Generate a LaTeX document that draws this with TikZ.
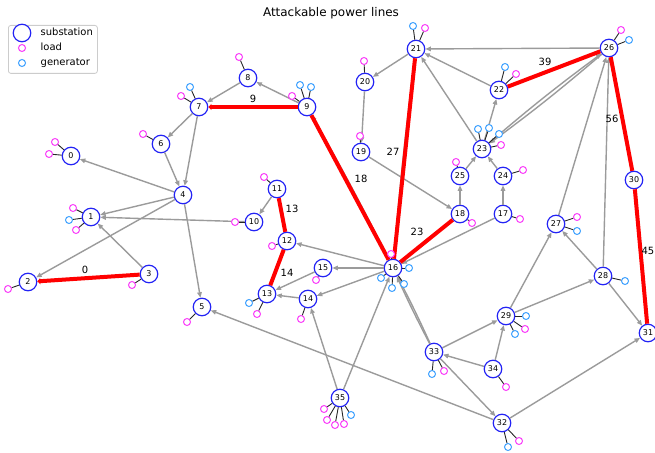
\documentclass[tikz,border=0pt]{standalone}
\usepackage{fontspec}
\setmainfont{DejaVu Sans}
\usetikzlibrary{arrows.meta,calc}
\definecolor{subblue}{RGB}{35,35,245}
\definecolor{loadmag}{RGB}{250,60,250}
\definecolor{genblue}{RGB}{60,160,255}
\definecolor{edgegray}{RGB}{155,155,155}
\definecolor{attred}{RGB}{255,0,0}
\newcommand\addatt[4]{\node[#3] (#2) at ($(#1)+(#4)$) {}; \draw[stub] (#1) -- (#2);}
\begin{document}
\begin{tikzpicture}[x=1bp,y=-1bp,
 sub/.style={circle,draw=subblue,line width=1.2bp,fill=white,minimum size=17.5bp,inner sep=0pt,font=\fontsize{8}{9}\selectfont},
 ld/.style={circle,draw=loadmag,line width=1bp,fill=white,minimum size=7bp,inner sep=0pt},
 gn/.style={circle,draw=genblue,line width=1bp,fill=white,minimum size=7bp,inner sep=0pt},
 stub/.style={draw=black!85,line width=0.9bp},
 ed/.style={draw=edgegray,line width=1.4bp,-{Triangle[length=5.5bp,width=4.5bp]}},
 edn/.style={draw=edgegray,line width=1.4bp},
 attline/.style={draw=attred,line width=4bp},
 atttip/.style={draw=attred,line width=4bp,-{Triangle[length=3bp,width=6bp]}},
 elab/.style={font=\fontsize{10}{12}\selectfont,inner sep=0pt},
 legtext/.style={anchor=west,font=\fontsize{10}{12}\selectfont,inner sep=0pt,text height=7.5bp,text depth=2bp},
]
\useasboundingbox (0,0) rectangle (655,453);
\clip (0,0) rectangle (655,453);

% substations
\node[sub] (n0) at (71,156) {0};
\node[sub] (n1) at (91,217) {1};
\node[sub] (n2) at (28,282) {2};
\node[sub] (n3) at (149,274) {3};
\node[sub] (n4) at (183,195) {4};
\node[sub] (n5) at (202,307) {5};
\node[sub] (n6) at (161,144) {6};
\node[sub] (n7) at (199,107) {7};
\node[sub] (n8) at (248,78) {8};
\node[sub] (n9) at (307,107) {9};
\node[sub] (n10) at (254,222) {10};
\node[sub] (n11) at (277,189) {11};
\node[sub] (n12) at (287,241) {12};
\node[sub] (n13) at (267,294) {13};
\node[sub] (n14) at (308,299) {14};
\node[sub] (n15) at (323,268) {15};
\node[sub] (n16) at (393,268) {16};
\node[sub] (n17) at (503,214) {17};
\node[sub] (n18) at (460,214) {18};
\node[sub] (n19) at (361,152) {19};
\node[sub] (n20) at (365,82) {20};
\node[sub] (n21) at (416,49) {21};
\node[sub] (n22) at (499,90) {22};
\node[sub] (n23) at (482,149) {23};
\node[sub] (n24) at (503,176) {24};
\node[sub] (n25) at (460,176) {25};
\node[sub] (n26) at (609,48) {26};
\node[sub] (n27) at (556,224) {27};
\node[sub] (n28) at (603,276) {28};
\node[sub] (n29) at (506,316) {29};
\node[sub] (n30) at (634,180) {30};
\node[sub] (n31) at (648,333) {31};
\node[sub] (n32) at (502,423) {32};
\node[sub] (n33) at (434,352) {33};
\node[sub] (n34) at (493,369) {34};
\node[sub] (n35) at (340,398) {35};

% gray lines
\draw[ed] (n8) -- (n7);
\draw[ed] (n9) -- (n8);
\draw[ed] (n7) -- (n6);
\draw[ed] (n7) -- (n4);
\draw[ed] (n6) -- (n4);
\draw[ed] (n4) -- (n0);
\draw[ed] (n4) -- (n1);
\draw[ed] (n4) -- (n2);
\draw[ed] (n10) -- (n1);
\draw[ed] (n3) -- (n1);
\draw[ed] (n4) -- (n5);
\draw[ed] (n11) -- (n10);
\draw[ed] (n16) -- (n12);
\draw[ed] (n16) -- (n15);
\draw[ed] (n15) -- (n13);
\draw[ed] (n14) -- (n13);
\draw[ed] (n16) -- (n14);
\draw[ed] (n35) -- (n14);
\draw[ed] (n35) -- (n16);
\draw[ed] (n32) -- (n5);
\draw[ed] (n17) -- (n16);
\draw[ed] (n19) -- (n18);
\draw[ed] (n20) -- (n19);
\draw[ed] (n21) -- (n20);
\draw[ed] (n26) -- (n21);
\draw[ed] (n22) -- (n21);
\draw[ed] (n23) -- (n21);
\draw[ed] (n23) -- (n22);
\draw[ed] (n26) to[bend left=2] (n23);
\draw[ed] (n23) to[bend left=2] (n26);
\draw[ed] (n25) -- (n23);
\draw[ed] (n24) -- (n23);
\draw[ed] (n18) -- (n25);
\draw[ed] (n17) -- (n24);
\draw[ed] (n27) -- (n26);
\draw[ed] (n28) -- (n26);
\draw[ed] (n28) -- (n27);
\draw[ed] (n29) -- (n27);
\draw[ed] (n29) -- (n28);
\draw[ed] (n28) -- (n31);
\draw[ed] (n32) -- (n31);
\draw[ed] (n33) -- (n29);
\draw[ed] (n34) -- (n29);
\draw[ed] (n34) -- (n33);
\draw[ed] (n33) -- (n32);
\draw[ed] (n33) to[bend left=1.5] (n16);
\draw[ed] (n33) to[bend right=1.5] (n16);
\draw[ed] (n16) to[bend right=1.5] (n9);
\draw[edn] (n21) to[bend right=1.2] (n16);

% attackable (red) lines
\draw[atttip] (n3) -- (n2);
\draw[atttip] (n9) -- (n7);
\draw[attline] (n11) -- (n12);
\draw[attline] (n12) -- (n13);
\draw[attline] (n16) -- (n9);
\draw[attline] (n16) -- (n21);
\draw[attline] (n16) -- (n18);
\draw[attline] (n22) -- (n26);
\draw[attline] (n26) -- (n30);
\draw[attline] (n30) -- (n31);

% labels of attackable lines
\node[elab] (e0) at (85,270) {0};
\node[elab] (e9) at (253,99) {9};
\node[elab] (e13) at (292,209) {13};
\node[elab] (e14) at (287,273) {14};
\node[elab] (e18) at (361,179) {18};
\node[elab] (e27) at (393,152) {27};
\node[elab] (e23) at (417,232) {23};
\node[elab] (e39) at (545,62) {39};
\node[elab] (e56) at (612,119) {56};
\node[elab,anchor=east] (e45) at (654.5,251) {45};

% loads and generators
\addatt{n0}{l0a}{ld}{-16,-14}
\addatt{n0}{l0b}{ld}{-22,-2}
\addatt{n1}{l1a}{ld}{-18,-9}
\addatt{n1}{g1a}{gn}{-22,3}
\addatt{n1}{l1b}{ld}{-15,13}
\addatt{n2}{l2a}{ld}{-20,7}
\addatt{n3}{l3a}{ld}{-17,11}
\addatt{n5}{l5a}{ld}{-15,15}
\addatt{n6}{l6a}{ld}{-18,-10}
\addatt{n7}{l7a}{ld}{-18,-11}
\addatt{n7}{g7a}{gn}{-9,-20}
\addatt{n8}{l8a}{ld}{-9,-21}
\addatt{n9}{l9a}{ld}{-15,-11}
\addatt{n9}{g9a}{gn}{-7,-22}
\addatt{n9}{g9b}{gn}{4,-20}
\addatt{n10}{l10a}{ld}{-19,0}
\addatt{n11}{l11a}{ld}{-13,-12}
\addatt{n12}{l12a}{ld}{-15,5}
\addatt{n13}{g13a}{gn}{-18,9}
\addatt{n13}{l13a}{ld}{-10,20}
\addatt{n14}{l14a}{ld}{-7,20}
\addatt{n15}{l15a}{ld}{-7,12}
\addatt{n16}{l16a}{ld}{-2,-14}
\addatt{n16}{g16a}{gn}{16,0}
\addatt{n16}{g16b}{gn}{-12,10}
\addatt{n16}{g16c}{gn}{-1,20}
\addatt{n16}{g16d}{gn}{11,16}
\addatt{n17}{l17a}{ld}{17,5}
\addatt{n18}{l18a}{ld}{12,9}
\addatt{n19}{l19a}{ld}{-1,-16}
\addatt{n20}{l20a}{ld}{-1,-21}
\addatt{n21}{g21a}{gn}{-3,-23}
\addatt{n21}{l21a}{ld}{9,-21}
\addatt{n22}{g22a}{gn}{6,-23}
\addatt{n22}{l22a}{ld}{17,-16}
\addatt{n23}{g23a}{gn}{-4,-20}
\addatt{n23}{g23b}{gn}{7,-21}
\addatt{n23}{g23c}{gn}{17,-15}
\addatt{n23}{l23a}{ld}{19,-4}
\addatt{n24}{l24a}{ld}{20,-6}
\addatt{n25}{l25a}{ld}{-4,-14}
\addatt{n26}{l26a}{ld}{12,-18}
\addatt{n26}{g26a}{gn}{20,-8}
\addatt{n27}{l27a}{ld}{21,-7}
\addatt{n27}{g27a}{gn}{21,7}
\addatt{n28}{g28a}{gn}{22,5}
\addatt{n29}{g29a}{gn}{20,0}
\addatt{n29}{l29a}{ld}{19,13}
\addatt{n29}{g29b}{gn}{9,18}
\addatt{n32}{g32a}{gn}{6,24}
\addatt{n32}{l32a}{ld}{17,18}
\addatt{n33}{g33a}{gn}{-2,22}
\addatt{n33}{l33a}{ld}{10,19}
\addatt{n34}{l34a}{ld}{13,18}
\addatt{n35}{l35a}{ld}{-16,11}
\addatt{n35}{l35b}{ld}{-13,22}
\addatt{n35}{l35c}{ld}{-5,27}
\addatt{n35}{l35d}{ld}{4,26}
\addatt{n35}{g35a}{gn}{11,17}

% title
\node[font=\fontsize{12}{14}\selectfont,inner sep=0pt] (title) at (331,13) {Attackable power lines};

% legend
\node[draw=black!20,fill=white,rounded corners=2.5bp,line width=0.8bp,minimum width=89bp,minimum height=48bp,anchor=north west,inner sep=0pt] (legend) at (8,25) {};
\node[sub] (lgs) at (22,33) {};
\node[ld] (lgl) at (22,48) {};
\node[gn] (lgg) at (22,63) {};
\node[legtext] (lgst) at (40.5,33) {substation};
\node[legtext] (lglt) at (40.5,48) {load};
\node[legtext] (lggt) at (40.5,63) {generator};
\end{tikzpicture}
\end{document}
